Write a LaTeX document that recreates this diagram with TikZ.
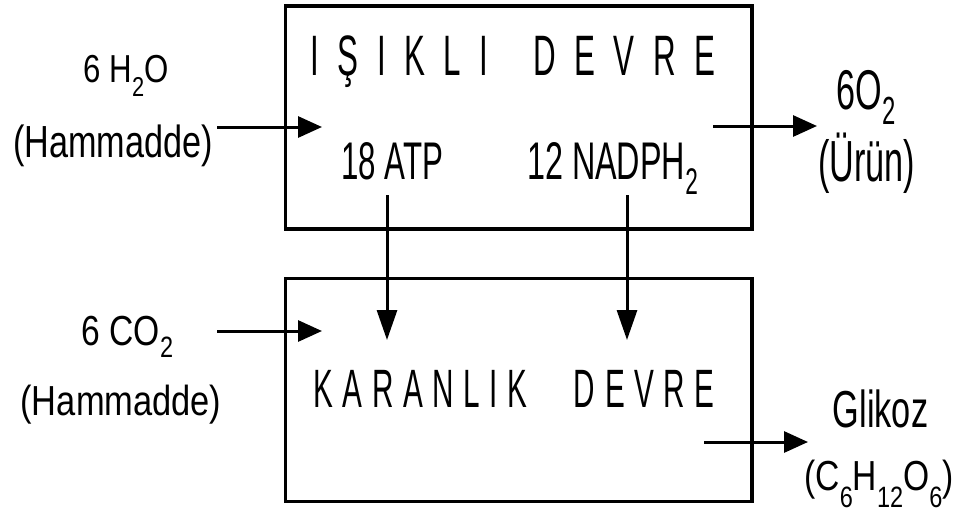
\documentclass[tikz,border=0pt]{standalone}
\usepackage{fontspec}
\setmainfont{Liberation Sans}
\usetikzlibrary{arrows.meta}
\newcommand\sq[3]{\scalebox{#1}[1]{\fontsize{#2}{#2}\selectfont #3}}
\newcommand\subx[2][0.36em]{\raisebox{-#1}{\scalebox{0.7}{#2}}}
\begin{document}
\begin{tikzpicture}[x=1pt,y=-1pt,
  box/.style={draw, line width=3.5pt, rectangle, inner sep=0pt,
              minimum width=466.5pt, minimum height=223pt},
  lbl/.style={inner sep=0pt, anchor=base},
  harr/.style={line width=3pt, -{Triangle[length=24pt,width=21pt]}},
  varr/.style={line width=3pt, -{Triangle[length=30pt,width=20pt]}}]
\useasboundingbox (0,0) rectangle (955,515);
% boxes
\node[box] (light) at (518.75,117.5) {};
\node[box] (dark) at (518.75,390) {};
% titles
\node[lbl] (t1) at (513,75) {\sq{0.55}{57}{\spaceskip=33.5pt\relax I Ş I K L I \kern49pt D E V R E}};
\node[lbl] (t2) at (514,407) {\sq{0.55}{54}{\spaceskip=17.5pt\relax K A R A N L I K \kern67pt D E V R E}};
% labels
\node[lbl] (h2o) at (126,82) {\sq{0.8}{39}{6 H\subx{2}O}};
\node[lbl] (ham1) at (113,157) {\sq{0.76}{45}{(Hammadde)}};
\node[lbl] (atp) at (392.5,179) {\sq{0.59}{53}{18 ATP}};
\node[lbl] (nadph) at (612.5,179) {\sq{0.61}{53}{12 NADPH\subx[0.3em]{2}}};
\node[lbl] (o2) at (866,109) {\sq{0.61}{56}{6O\subx[0.28em]{2}}};
\node[lbl] (urun) at (866.5,181) {\sq{0.59}{58}{(Ürün)}};
\node[lbl] (co2) at (127.5,345) {\sq{0.8}{42}{6 CO\subx[0.3em]{2}}};
\node[lbl] (ham2) at (121,415) {\sq{0.82}{42}{(Hammadde)}};
\node[lbl] (glk) at (880.5,427) {\sq{0.66}{52}{Glikoz}};
\node[lbl] (c6) at (879,490) {\sq{0.8}{42}{(C\subx[0.42em]{6}H\subx[0.42em]{12}O\subx[0.42em]{6})}};
% connector ends
\coordinate (h2oS) at (217,127); \coordinate (h2oT) at (322,127);
\coordinate (co2S) at (217,331); \coordinate (co2T) at (322,331);
\coordinate (atpS) at (387,195); \coordinate (atpT) at (387,340);
\coordinate (nadS) at (627,195); \coordinate (nadT) at (627,340);
\coordinate (o2S) at (713,126);  \coordinate (o2T) at (817,126);
\coordinate (glkS) at (704,442); \coordinate (glkT) at (808,442);
% connectors
\draw[harr] (h2oS) -- (h2oT);
\draw[harr] (co2S) -- (co2T);
\draw[varr] (atpS) -- (atpT);
\draw[varr] (nadS) -- (nadT);
\draw[harr] (o2S) -- (o2T);
\draw[harr] (glkS) -- (glkT);
\end{tikzpicture}
\end{document}
